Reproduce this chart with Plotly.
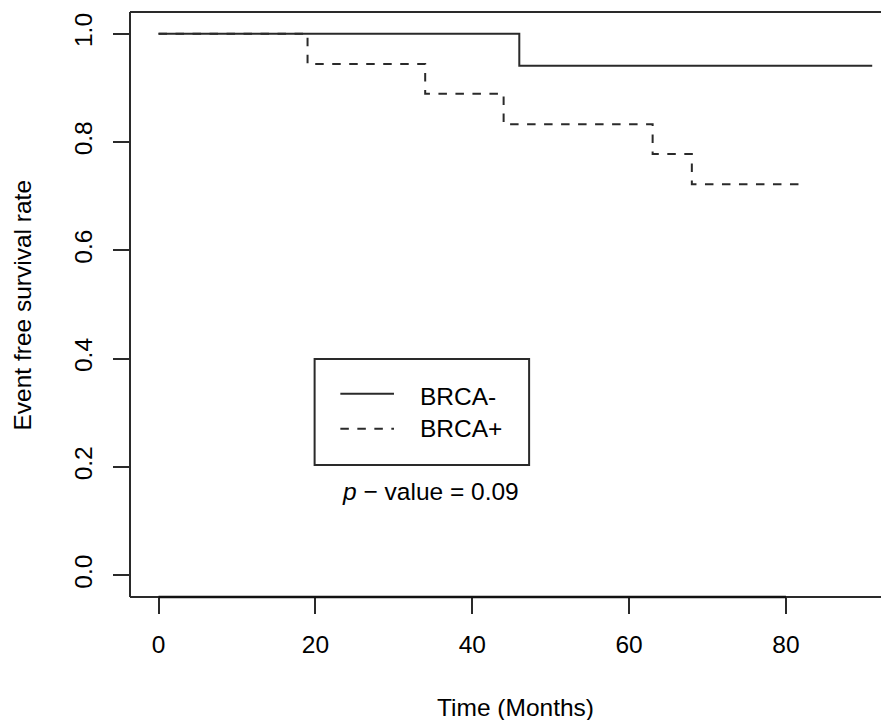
import plotly.graph_objects as go

# ---- data ----
neg_time = [0, 46, 91]
neg_surv = [1.0, 0.941, 0.941]
pos_time = [0, 19, 34, 44, 63, 68, 82]
pos_surv = [1.0, 0.944, 0.889, 0.833, 0.778, 0.722, 0.722]
series_names = ["BRCA-", "BRCA+"]
x_ticks = [0, 20, 40, 60, 80]
y_ticks = [0.0, 0.2, 0.4, 0.6, 0.8, 1.0]
y_tick_labels = ["0.0", "0.2", "0.4", "0.6", "0.8", "1.0"]
p_text = "<i>p</i> \u2212 value = 0.09"

FONT = "Liberation Sans, Arial, Helvetica, sans-serif"
FS = 24.5
LC = "#2a2a2a"
LW = 2

# page body adds an 8px offset; figure is sized to fill the rest of the window
PAGE_OFF = 8
PLOT_L, PLOT_T, PLOT_B = 130, 12, 597
FIG_W, FIG_H = 889 - PAGE_OFF, 720 - PAGE_OFF
PW = 889 - PLOT_L
PH = PLOT_B - PLOT_T

fig = go.Figure()
fig.add_trace(go.Scatter(x=neg_time, y=neg_surv, mode="lines", line_shape="hv",
                         name=series_names[0], line=dict(color=LC, width=LW), showlegend=False))
fig.add_trace(go.Scatter(x=pos_time, y=pos_surv, mode="lines", line_shape="hv",
                         name=series_names[1], line=dict(color=LC, width=LW, dash="8.5px,8.5px"),
                         showlegend=False))

shapes = []
# plot box: left, top, bottom (right edge lies outside the image)
shapes.append(dict(type="line", xref="paper", yref="paper", x0=0, x1=0, y0=0, y1=1,
                   line=dict(color=LC, width=LW)))
shapes.append(dict(type="line", xref="paper", yref="paper", x0=0, x1=1, y0=1, y1=1,
                   line=dict(color=LC, width=LW)))
shapes.append(dict(type="line", xref="paper", yref="paper", x0=0, x1=1, y0=0, y1=0,
                   line=dict(color=LC, width=LW)))
# x axis line (from first to last tick)
shapes.append(dict(type="line", xref="x", yref="paper", x0=x_ticks[0], x1=x_ticks[-1], y0=0, y1=0,
                   line=dict(color="#111", width=LW + 0.5)))
# legend box
shapes.append(dict(type="rect", xref="x", yref="y", x0=19.9, x1=47.25, y0=0.2038, y1=0.3995,
                   line=dict(color=LC, width=LW), fillcolor="rgba(0,0,0,0)"))
# legend samples
shapes.append(dict(type="line", xref="x", yref="y", x0=23.18, x1=30.02, y0=0.335, y1=0.335,
                   line=dict(color=LC, width=LW)))
shapes.append(dict(type="line", xref="x", yref="y", x0=23.18, x1=30.02, y0=0.2705, y1=0.2705,
                   line=dict(color=LC, width=LW, dash="8.5px,8.5px")))

annotations = [
    dict(x=33.1, y=0.331, xref="x", yref="y", text=series_names[0], showarrow=False,
         xanchor="left", yanchor="middle", font=dict(family=FONT, size=FS, color="black")),
    dict(x=33.1, y=0.272, xref="x", yref="y", text=series_names[1], showarrow=False,
         xanchor="left", yanchor="middle", font=dict(family=FONT, size=FS, color="black")),
    dict(x=34.7, y=0.154, xref="x", yref="y", text=p_text, showarrow=False,
         xanchor="center", yanchor="middle", font=dict(family=FONT, size=FS, color="black")),
    dict(x=(515 - PLOT_L) / PW, y=(PLOT_B - 707) / PH, xref="paper", yref="paper",
         text="Time (Months)", showarrow=False, xanchor="center", yanchor="middle",
         font=dict(family=FONT, size=FS, color="black")),
    dict(x=(22 - PLOT_L) / PW, y=0.5, xref="paper", yref="paper", textangle=-90,
         text="Event free survival rate", showarrow=False, xanchor="center", yanchor="middle",
         font=dict(family=FONT, size=FS, color="black")),
]

fig.update_layout(
    width=FIG_W, height=FIG_H,
    margin=dict(l=PLOT_L - PAGE_OFF, r=0, t=PLOT_T - PAGE_OFF, b=FIG_H - (PLOT_B - PAGE_OFF), pad=0),
    paper_bgcolor="white", plot_bgcolor="white",
    font=dict(family=FONT, size=FS, color="black"),
    shapes=shapes, annotations=annotations,
    xaxis=dict(range=[-3.64, 93.14], tickmode="array", tickvals=x_ticks,
               ticktext=[str(v) for v in x_ticks],
               ticks="outside", ticklen=16, tickwidth=LW, tickcolor=LC,
               showline=False, showgrid=False, zeroline=False,
               ticklabelstandoff=10, tickfont=dict(family=FONT, size=FS, color="black")),
    yaxis=dict(range=[-0.04, 1.04], tickmode="array", tickvals=y_ticks, ticktext=y_tick_labels,
               ticks="outside", ticklen=16, tickwidth=LW, tickcolor=LC, tickangle=-90,
               showline=False, showgrid=False, zeroline=False,
               ticklabelstandoff=11, tickfont=dict(family=FONT, size=FS, color="black")),
)

fig.write_html("out.html")
